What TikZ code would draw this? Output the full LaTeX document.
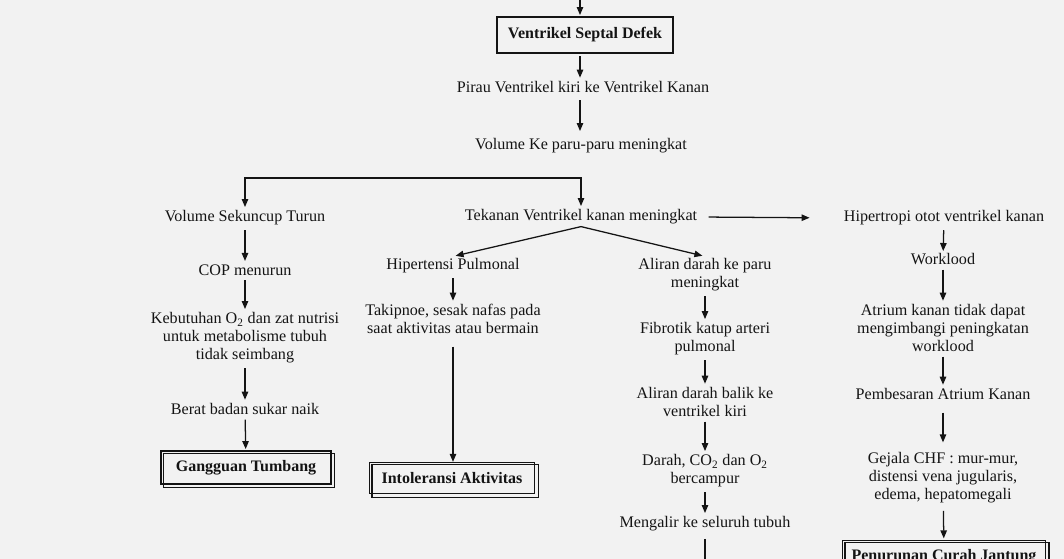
\documentclass[tikz,border=0pt]{standalone}
\usepackage{fontspec}
\setmainfont{Liberation Serif}
\usetikzlibrary{arrows.meta,calc}
\definecolor{bg}{HTML}{F2F2F2}
\definecolor{ink}{HTML}{141414}
\begin{document}
\begin{tikzpicture}[x=0.75pt,y=-0.75pt,
  txt/.style={inner sep=1.5pt,align=center,text=ink,font=\fontsize{12.1}{13.5}\selectfont},
  boxb/.style={draw=ink,line width=0.9pt,inner sep=0pt,text=ink,font=\fontsize{12}{14}\selectfont\bfseries},
  arr/.style={draw=ink,line width=0.95pt,-{Triangle[length=6pt,width=4.8pt]},shorten <=2pt,shorten >=1pt},
  ln/.style={draw=ink,line width=0.95pt}]
\clip (0,0) rectangle (1064,559);
\fill[bg] (0,0) rectangle (1064,559);
% top
\node[boxb,minimum width=132pt,minimum height=27pt] (vsd) at (585,35) {Ventrikel Septal Defek};
\coordinate (topin) at (580,-5);
\node[txt] (pir) at (583,87) {Pirau Ventrikel kiri ke Ventrikel Kanan};
\node[txt] (vol) at (581,146) {Volume Ke paru-paru meningkat};
% level 2
\node[txt] (vs) at (245,218) {Volume Sekuncup Turun};
\node[txt] (tek) at (581,217) {Tekanan Ventrikel kanan meningkat};
\node[txt] (hyp) at (944,218) {Hipertropi otot ventrikel kanan};
\coordinate (br) at (414,178);
% left column
\node[txt] (cop) at (245,270) {COP menurun};
\node[txt] (keb) at (245,338) {Kebutuhan O\textsubscript{2} dan zat nutrisi\\untuk metabolisme tubuh\\tidak seimbang};
\node[txt] (ber) at (245,409) {Berat badan sukar naik};
\node[boxb,minimum width=127.5pt,minimum height=24.75pt] (gt) at (246,467.5) {Gangguan Tumbang};
% middle left
\node[txt] (hip) at (453,266) {Hipertensi Pulmonal};
\node[txt] (tak) at (453,319) {Takipnoe, sesak nafas pada\\saat aktivitas atau bermain};
\node[boxb,minimum width=123.75pt,minimum height=23.25pt] (int) at (452,478) {Intoleransi Aktivitas};
% middle right
\node[txt] (ali) at (705,275) {Aliran darah ke paru\\meningkat};
\node[txt] (fib) at (705,339) {Fibrotik katup arteri\\pulmonal};
\node[txt] (alb) at (705,402) {Aliran darah balik ke\\ventrikel kiri};
\node[txt] (dar) at (705,471) {Darah, CO\textsubscript{2} dan O\textsubscript{2}\\bercampur};
\node[txt] (men) at (705,524) {Mengalir ke seluruh tubuh};
\coordinate (menout) at (705,575);
% right column
\node[txt] (wor) at (943,259) {Worklood};
\node[txt] (atr) at (943,328) {Atrium kanan tidak dapat\\mengimbangi peningkatan\\worklood};
\node[txt] (pem) at (943,394) {Pembesaran Atrium Kanan};
\node[txt] (gej) at (943,478) {Gejala CHF : mur-mur,\\distensi vena jugularis,\\edema, hepatomegali};
\node[boxb,minimum width=152pt,minimum height=25pt] (pen) at (944,557) {Penurunan Curah Jantung};
% double (offset) frames
\foreach \b in {gt,int,pen}{
  \draw[ink,line width=0.9pt] ([shift={(2.25pt,-2.25pt)}]\b.north west) rectangle ([shift={(2.25pt,-2.25pt)}]\b.south east);
}
% connectors
\draw[arr,shorten <=0pt] (topin) -- (vsd.north -| topin);
\draw[arr] (vsd.south -| topin) -- (pir.north -| topin);
\draw[arr,shorten <=4pt,shorten >=4pt] (pir.south -| topin) -- (vol.north -| topin);
\draw[ln,{Triangle[length=6pt,width=4.8pt]}-{Triangle[length=6pt,width=4.8pt]},shorten <=1pt,shorten >=1pt] (vs.north) |- (br) -| (tek.north);
\draw[arr,shorten <=7pt,shorten >=24pt] (tek.east) -- (hyp.west);
\draw[ln,-{Triangle[length=6pt,width=4.8pt]},shorten >=2pt] (tek.south) -- (hip.north);
\draw[ln,-{Triangle[length=6pt,width=4.8pt]},shorten >=2pt] (tek.south) -- (ali.north);
\draw[arr] (vs) -- (cop);
\draw[arr] (cop) -- (keb);
\draw[arr] (keb) -- (ber);
\draw[arr] (ber) -- (gt);
\draw[arr] (hip) -- (tak);
\draw[arr,shorten <=8pt,shorten >=0pt] (tak.south) -- (int.north -| tak.south);
\draw[arr] (ali) -- (fib);
\draw[arr] (fib) -- (alb);
\draw[arr] (alb) -- (dar);
\draw[arr] (dar) -- (men);
\draw[ln,shorten <=4pt] (men) -- (menout);
\draw[arr,shorten >=0pt] (hyp) -- (wor);
\draw[arr] (wor) -- (atr);
\draw[arr] (atr) -- (pem);
\draw[arr,shorten <=8pt,shorten >=6pt] (pem) -- (gej);
\draw[arr,shorten <=4pt] (gej) -- (pen);
\end{tikzpicture}
\end{document}
